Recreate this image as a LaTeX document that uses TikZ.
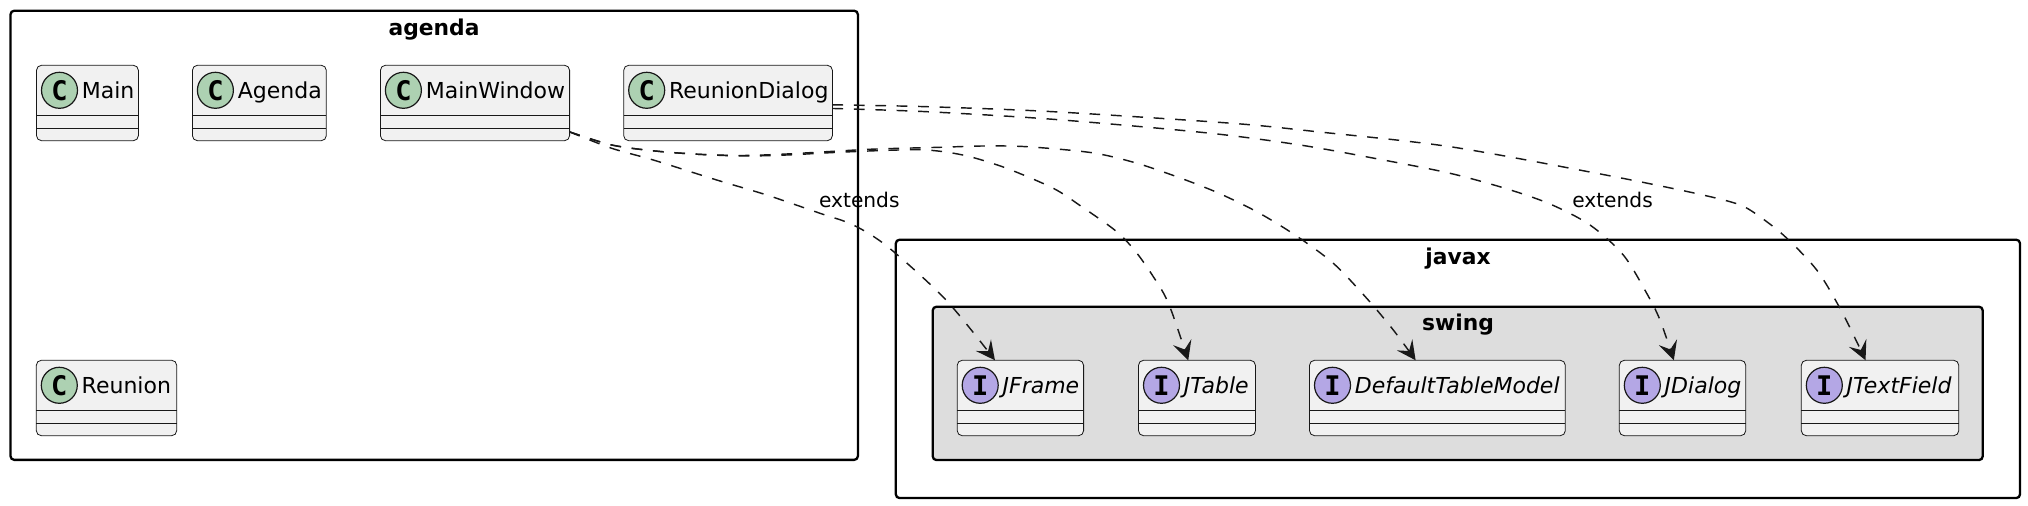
\documentclass[tikz,border=0pt]{standalone}
\usepackage{fontspec}
\setmainfont{DejaVu Sans}
\setmonofont{DejaVu Sans Mono}
\usetikzlibrary{arrows.meta,positioning}
\definecolor{linecolor}{HTML}{181818}
\definecolor{boxcolor}{HTML}{F1F1F1}
\definecolor{swingcolor}{HTML}{DDDDDD}
\definecolor{spotCcolor}{HTML}{ADD1B2}
\definecolor{spotIcolor}{HTML}{B4A7E5}
\tikzset{
	package/.style={
		rectangle,
		line width=1.15pt,
		draw=black,
		rounded corners=1.9pt,
		anchor=north west,
		inner sep=0pt,
		outer sep=0pt
	},
	pkgtitle/.style={
		font=\fontsize{10.9}{13}\selectfont\bfseries,
		anchor=base
	},
	umlbox/.style={
		rectangle,
		line width=0.4pt,
		draw=linecolor,
		fill=boxcolor,
		rounded corners=2.5pt,
		anchor=north west,
		inner sep=0pt,
		outer sep=0pt,
		minimum height=37.7pt
	},
	divider/.style={
		draw=linecolor,
		line width=0.4pt
	},
	spotC/.style={
		circle,
		line width=0.6pt,
		draw=linecolor,
		fill=spotCcolor,
		inner sep=0pt,
		minimum size=18pt,
		font=\fontsize{13.5}{13.5}\selectfont\ttfamily\bfseries
	},
	spotI/.style={
		spotC,
		fill=spotIcolor
	},
	nameC/.style={
		anchor=base west,
		inner sep=0pt,
		font=\fontsize{11}{13}\selectfont
	},
	nameI/.style={
		nameC,
		font=\fontsize{11}{13}\selectfont\itshape
	},
	edgelabel/.style={
		anchor=base,
		inner sep=0pt,
		font=\fontsize{10.1}{12}\selectfont
	},
	dep/.style={
		draw=linecolor,
		line width=0.72pt,
		dash pattern=on 5.36pt off 5.36pt,
		-{Stealth[length=9.5pt,width=9.5pt,inset=3.8pt]}
	},
}
% name, left, right, top, letter, text
\newcommand{\umlclass}[6]{
	\begin{scope}[shift={(#2,#4)}]
		\node[umlbox,minimum width={(#3-#2)*0.5pt}] (#1) at (0,0) {};
		\node[spot#5] (#1-spot) at (23,25) {#5};
		\node[name#5] (#1-name) at (45,33) {#6};
		\draw[divider] ([yshift=-6.15pt]#1.west) -- ([yshift=-6.15pt]#1.east);
		\draw[divider] ([yshift=-12.65pt]#1.west) -- ([yshift=-12.65pt]#1.east);
	\end{scope}
}
\begin{document}
\begin{tikzpicture}[x=0.5pt,y=-0.5pt]
	\useasboundingbox (0,0) rectangle (2028,506);
	% packages
	\node[package,minimum width=423.7pt,minimum height=224.6pt] (agenda) at (10.5,10.7) {};
	\node[pkgtitle] (agenda-title) at (434,35.3) {agenda};
	\node[package,minimum width=562.1pt,minimum height=129.2pt] (javax) at (895.8,239.7) {};
	\node[pkgtitle] (javax-title) at (1458,264.3) {javax};
	\node[package,fill=swingcolor,minimum width=525pt,minimum height=76.7pt] (swing) at (932.7,306.7) {};
	\node[pkgtitle] (swing-title) at (1458,330.8) {swing};
	% classes
	\umlclass{Main}{36.5}{138.4}{65.3}{C}{Main}
	\umlclass{Agenda}{192.4}{326.3}{65.3}{C}{Agenda}
	\umlclass{MainWindow}{380.4}{569.6}{65.3}{C}{MainWindow}
	\umlclass{ReunionDialog}{623.7}{832.4}{65.3}{C}{ReunionDialog}
	\umlclass{Reunion}{36.3}{176.7}{360.3}{C}{Reunion}
	\umlclass{JFrame}{957.2}{1083.6}{360.3}{I}{JFrame}
	\umlclass{JTable}{1138.5}{1255.4}{360.3}{I}{JTable}
	\umlclass{DefaultTableModel}{1309.5}{1565.3}{360.3}{I}{DefaultTableModel}
	\umlclass{JDialog}{1619.3}{1745.7}{360.3}{I}{JDialog}
	\umlclass{JTextField}{1801.3}{1958.7}{360.3}{I}{JTextField}
	% dependencies
	\draw[dep] plot[smooth,tension=0.5] coordinates {(MainWindow.-17.7) (611.7,148.3) (653.3,160) (716.7,180) (766.7,195) (820,213.3) (853.3,225) (888,247) (946,300) (JFrame.124.5)};
	\draw[dep] plot[smooth,tension=0.5] coordinates {(MainWindow.-17.7) (611.7,145) (655,151) (698.3,154.3) (743.3,156) (786.7,155) (830,152.7) (876.7,150.7) (918.3,149.7) (943.3,151.7) (970,156.7) (1006.7,168.3) (1053.3,188.3) (1081.7,206.7) (1116.7,231.7) (1138.3,255) (1161.7,290) (1171.7,311.7) (JTable.103.4)};
	\draw[dep] plot[smooth,tension=0.5] coordinates {(MainWindow.-17.7) (611.7,145) (655,151) (698.3,154.3) (743.3,155.5) (786.7,154) (830,151.5) (876.7,149) (940,147.3) (983.3,146) (1026.7,146.7) (1091.7,152.7) (1135,162.7) (1176.7,176.7) (1216.7,192.3) (1256.7,211.7) (1295,235) (1333.3,263.3) (1366.7,298.3) (1393.3,330) (DefaultTableModel.120.3)};
	\draw[dep] plot[smooth,tension=0.5] coordinates {(ReunionDialog.-3) (926.7,111.7) (1053,119.3) (1205,132.7) (1300,145) (1383.3,160) (1450,173.3) (1505,188.3) (1550,204) (1590,225) (1623.3,255) (1646.7,293.3) (1660,320) (JDialog.103.3)};
	\draw[dep] plot[smooth,tension=0.5] coordinates {(ReunionDialog.-1) (926.7,106.7) (1053,111.7) (1232,123.3) (1316.7,131.7) (1450,146.7) (1596.7,173.3) (1683.3,190.7) (1730,201.7) (1750,210) (1783.3,235) (1816.7,270) (1840,308.3) (1858.3,345) (JTextField.111.3)};
	% labels
	\node[edgelabel] (extends-frame) at (859.3,208) {extends};
	\node[edgelabel] (extends-dialog) at (1612.5,208) {extends};
\end{tikzpicture}
\end{document}
